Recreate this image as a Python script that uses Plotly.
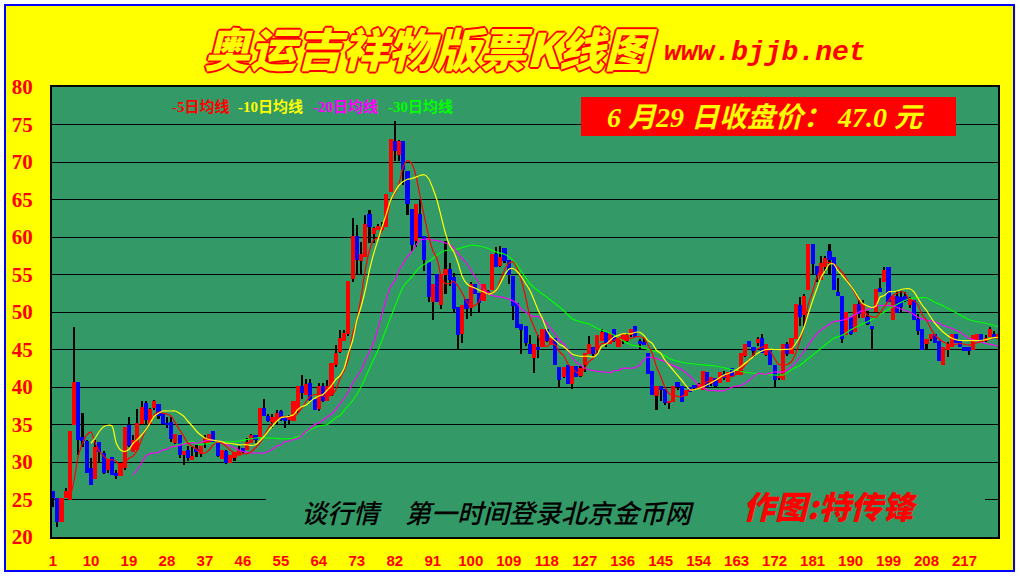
import plotly.graph_objects as go

days = list(range(1, 226))
opens = [26.2,25.2,22,25.2,25,35,40.7,33.4,32.8,29.2,27.8,32.7,31.2,29,30.7,28.5,28.2,29.2,35,31.4,31.6,35.1,37.9,35.1,37.2,
37.8,36.5,35.1,35.3,32.5,33.6,31,31.6,30.3,31.8,31.1,32.5,32.5,34.2,32.6,30.4,31.5,29.9,30.5,31,31.9,31.6,32.5,33.6,33.4,
37.2,36.2,35.4,35.6,36.8,36.1,35.6,35.5,36.8,40.2,39,40.6,38.4,37.1,40.2,38.1,39,42.9,44.7,46.2,47.1,54.4,60.2,56.8,57.4,
63.1,60.4,61,61,61.4,66,72.8,70.9,72.8,68.8,63.7,59.5,63.1,60.2,56.7,51.4,55.1,50.9,54.9,55.7,54.7,50.7,47.1,51.7,50.5,
53.8,52.6,51.5,52.8,52.9,57.7,56.1,58.6,57,54.8,51.2,48.4,48.2,45.7,43.9,45.4,45.4,47.7,45.7,46.5,42.7,41.4,42.9,40.4,42.8,
41.5,42.9,44.4,45.4,44.9,46.2,47.4,45.7,47.7,45.4,46.2,46.2,46.9,48.1,46.2,46,44.6,42.2,38.8,40.2,39.8,37.9,38,40.7,40.2,
38.8,40,40.3,39.9,39.6,42,40.4,41.2,40.5,41.8,40.7,42.6,41.6,41.6,44.1,46.1,45.3,45.9,46.6,44.3,45,42.9,41.2,40.9,45.7,
44.4,46.4,51,49.6,52.9,59.1,56.2,54.3,56,58.2,57.4,52.7,52.2,46.9,49.4,47.4,51.1,49.2,49.3,48.2,50,53.2,54,56,48.9,
52.2,52,52.2,51,51.6,49.1,47.7,45.8,46.4,47.1,46.1,42.9,45,45.4,47.1,46.1,45.4,45.4,45,46.2,47.1,46.2,46.7,47.1,46.4]
closes = [25.2,22,25.2,26.2,34.2,40.7,33,32.8,28.5,27,32,31.4,28.5,30.4,28.3,28.1,29.9,34.7,32.2,33,35.2,37.4,35.6,37.1,38.1,
36.1,35.1,35,33.1,33.8,31,31.5,30.5,30.8,31.3,32.2,33.2,33.8,32.6,30.8,31.6,29.9,31,31.3,31.6,31.3,32.7,33.6,33,37.2,
36.2,35.5,36,36.5,35.6,35.5,36.1,38.1,40.2,39.2,40.4,38.3,37,40.2,38.1,40.2,43.2,44.5,46.6,47.2,54.2,60.2,56.9,57.7,61.7,
61.4,61.2,61.5,61.4,65.7,73.1,71.5,72.8,68.9,64.4,58.9,64.4,60,56.9,52,53.8,51.4,55.1,55.7,54.3,50.4,46.9,51,50.4,53.8,
52.4,51.2,53.7,52.6,57.7,56,57.4,56.8,55,50.8,47.9,47.6,45.9,44.4,45.8,44.9,47.7,46.2,46.5,42.9,41,42.7,40.4,42.8,41.3,
42.6,44.5,45.7,44.4,46.9,47.4,45.9,47.2,46.2,46.7,47.1,46.9,47.7,46.7,45.7,45.6,41.8,39,40.2,39.6,37.9,38.1,40.2,40,38,
39.6,39.4,39.9,40.4,42.2,40,41.3,40.1,42,41.2,42,41.5,42.1,44.5,45.7,45.4,44.8,46.4,44.5,45.7,42.9,40.9,41.6,45.7,44.4,
46.6,51.1,49.4,52.2,59.1,56.4,54.9,56.6,57.2,56.9,52.9,52.1,46.4,50,47.1,51.1,49.8,51.1,48.4,47.7,53.1,52.7,55.6,51.4,52.1,
49.9,50.7,51.5,51.8,49,47.5,45,46.4,47.1,45.9,43.5,45.4,45.7,47.1,45.9,45.4,44.8,44.8,46.9,47.1,46.2,46.6,47.7,46.6,47.1]
highs = [26.2,25.2,25.2,26.5,34.2,48,40.7,36.5,33,30.5,33,32.7,31.5,30.4,30.7,29,30,34.7,36,33.6,37.1,38.1,38.1,37.2,38.3,
37.8,36.5,36,36,33.8,33.6,31.5,32.2,32,32.3,32.2,33.6,33.8,34.2,32.6,31.6,31.6,31,31.3,32.1,31.9,33.2,33.7,33.6,37.2,
38.4,36.4,36.4,37,36.9,36.1,36.3,38.1,40.2,41.6,41.1,41.1,38.4,40.6,40.6,40.9,43.2,45.6,47.6,47.6,54.2,62.5,61.6,59.4,63,
63.6,61.4,61.7,62,65.7,73.1,75.5,73,72.8,68.8,63.7,64.4,65,60.2,56.7,53.8,55.1,55.1,59.5,56.5,55.2,50.7,51,51.7,54,
53.8,52.6,53.8,53,57.7,58.7,58.8,58.6,57,54.8,51.2,48.4,48.2,47,45.8,46.9,47.7,47.7,46.5,46.5,42.7,42.7,42.9,42.8,42.8,
42.8,44.5,46.8,45.4,46.9,47.7,47.4,47.2,47.7,46.7,47.1,47.2,47.7,48.1,46.4,46.5,44.6,42.2,40.2,40.2,39.8,38.2,40.2,40.7,40.2,
39.6,40,40.3,40.5,42.2,42,41.3,41.2,42,42.2,42,42.6,42.2,44.5,45.7,46.1,45.3,46.7,47.1,45.7,45,42.9,41.8,45.7,46,
46.6,51.1,52,52.4,59.1,59.1,56.2,57.5,57.5,59.1,57.4,54.5,52.2,50,49.4,51.1,51.6,51.6,50.2,48.2,53.1,54.5,56,56,52.1,
52.8,52.8,52.7,52,51.6,49.8,47.7,46.4,47.1,47.1,46.1,45.4,46,47.1,47.1,46.1,45.4,45.4,46.9,47.1,47.1,47,48,47.5,47.1]
lows = [24,21.4,22,25.2,25,35,31,32,28.5,27,27.8,30,28.4,28.6,28.3,27.8,28.2,29,32,31.4,31.6,35.1,35.1,35,37,
35.8,35.1,34.5,32.7,32.4,30.5,29.6,30.2,30.3,30.7,30.7,31.9,32.5,32.6,30.7,30.4,29.8,29.9,30.2,31,31.2,31.6,32.5,32.5,33.4,
36.2,35.4,34.5,35.1,35.5,34.6,35,35.5,36.6,38.4,39,38.2,37,36.8,38,38.1,38.8,42.7,44.5,46.2,46.8,54,55.1,55,57.4,
59.2,59.2,61,60.8,61.3,66,70.2,70.2,67,62.9,58.2,58.7,60,55.5,51.4,48.9,51.4,50.4,52.4,53.5,50,45,45.9,49.1,49.5,
52.4,49.9,51.5,52.3,52.9,56,56,56.5,53.7,49,47.9,44.4,45.5,44.4,41.9,43.9,45.4,46,45.7,42.9,40,41.2,40.4,39.8,41.3,
41.4,42,44.4,44.2,44.4,46.2,45.3,45.7,46,45.4,45.7,46,46.7,46.7,45,45.6,41.8,39,37,38.1,37.6,37.1,38,39.6,38,
38.8,39.3,39.7,39.9,39.6,40,40.2,40,40.5,41,40.7,41.3,41.6,41.6,44,45.4,44,45.5,44.5,44.2,42.9,40,41,40.9,44.1,
44.4,46.4,48.2,48.2,52.9,55,54,54.3,55.4,55,52.9,52.1,45.9,46.9,46.9,47.4,49.2,49.2,48.3,45,50,52.7,54,51.4,48.9,
49.9,49.9,51.3,50.5,49,47,45,45,46.2,45.9,43.5,42.9,44,45.3,45.9,45.4,44.8,44.3,45,46.2,46.2,46,46.7,46.5,46.4]

ma5_days = list(range(5, 148)) + [150,152,154,156,158,160,162,164,166,168,170,171,172,173,175,176,177,178,179,180,181,182,184,186,188,190,192,193,194,196,198,200,202,203,204,205,206,207,208,209,210,212,214,216,218,220,222,224,225]
ma5_vals = [25,27.6,30.8,32.5,33.6,34,32.5,31.4,30.8,30.3,30.3,30.1,29.2,29.9,30.5,30.8,31.6,33,34.3,35.2,36.3,36.7,36.5,36.4,36.1,
35.2,34.3,33.4,32.5,32.1,31.7,31.2,31.2,31.6,32.3,32.7,32.5,32.1,31.6,31.2,30.9,31.1,31.1,31.4,31.9,32.5,33.4,34.5,35.2,35.6,
36,36.1,36,36,36.5,37.2,38.1,38.8,39,39,38.8,38.8,38.9,39.6,41.1,42.2,43.8,47.1,48.9,52,55.6,58.2,59.6,59.9,60.9,
62.2,64.9,65.8,67.1,69.4,70.2,69.8,68.2,65.4,62.7,60.2,58.2,57.1,54.7,53.8,53.8,54.1,53.4,52.5,51.4,50.7,50.9,51.4,53.4,52.7,
52.5,52.9,54.2,55.6,56.5,56.7,55.8,54.2,52,49.4,48,46.7,45.7,45.4,45.7,45.6,44.7,44.2,43.1,42.5,42,41.8,42.5,43.4,43.8,
44.9,45.8,45.8,45.9,46.2,46.5,46.5,46.5,46.5,46.7,46.7,46.5,45.6,44.5,42.7,41.4,40,39.1,
38.7,39.6,39.8,40.7,40.9,41.4,41.4,42.3,43.6,45.1,45.4,44.7,43.8,43,43,43.4,44.5,46.2,48,51.1,52.7,54.6,56.6,56.4,55.3,53.5,51.5,50.4,49.6,49.3,50.7,52.2,52.7,52.5,51.5,51.5,50.9,49.6,48.9,47.8,46.9,46,45.6,45.8,45.6,45.9,46.2,46.6,46.7]

ma10_days = list(range(10, 148)) + [150,152,154,156,158,160,162,164,166,168,170,172,174,176,177,178,179,180,181,182,183,184,185,186,187,188,189,190,191,192,193,194,195,196,197,198,199,200,201,202,203,204,205,206,207,208,209,210,212,214,216,218,220,222,224,225]
ma10_vals = [32.5,33.2,34.1,34.7,34.9,34.8,32.5,31.6,31.4,31.7,32.5,33,33.6,34.3,35.2,36.1,36.5,36.8,36.8,36.8,36.8,36.5,36.1,35.4,34.8,
34.1,33.6,33.2,33,32.9,32.8,32.7,32.5,32.5,32.4,32.3,32.3,32.3,32.2,32.3,32.8,33.4,34.1,34.8,35.4,35.9,36,36.1,36.3,37,
37.4,37.6,38.1,38.5,38.8,39,39.6,40.2,41,41.5,42.5,44.5,46.2,48.9,50.7,52.9,55.6,57.8,59.6,61.4,63.1,64.9,66,66.9,67.4,
67.7,67.8,68,68.2,68.3,67.8,66.5,64.9,62.7,60.5,58.9,58,56.5,54.7,53.8,53.4,53.2,52.9,52.7,52.4,52.5,52.9,53.8,54.9,55.7,
55.8,55.4,54.7,53.8,52.9,51.6,50.2,49.1,47.6,46.7,46.2,45.7,45.4,44.9,44.4,44.2,44.1,44.1,44.1,44,44.4,45.4,45.7,46.2,46.7,
46.9,47.1,47.1,47.1,47.3,47.3,46.9,46.2,45.8,44.9,44.5,43.6,42.9,
40.9,39.6,39.8,40.3,40.9,41.6,42,42.7,43.6,44.5,45,45,45,45.1,45.8,46.7,48,49.8,51.5,53.1,54.6,55.5,56.4,56.4,55.5,54.9,54.2,53.5,52.7,51.8,51.1,50.8,50.6,50.8,52,52.2,52.7,52.7,52.8,53,53.1,53.1,52.7,51.8,50.9,50.2,49.3,48.5,47.3,46.5,46.2,46.2,46.2,46.3,46.6,46.6]

ma20_days = list(range(20, 148)) + [150,152,154,156,158,160,162,164,166,168,170,172,174,176,178,180,182,184,186,188,190,192,194,196,198,200,202,204,206,208,210,212,214,216,218,220,222,224,225]
ma20_vals = [28.3,29,29.9,30.8,31.1,31.2,31.3,31.6,31.7,32,32.1,32.2,32.4,32.5,32.6,32.5,32.6,32.8,32.9,32.9,32.8,32.6,32.4,32.1,31.9,
31.6,31.4,31.3,31.2,31.2,31.2,31.2,31.4,31.7,32.1,32.3,32.7,32.8,33,33.1,33.6,34.1,34.5,35,35.2,35.6,36,36.4,37,37.8,
38.5,39.4,40.5,41.4,42.2,43.6,44.7,46,47.8,49.8,51.8,53.4,54.2,55.6,56.5,57.4,58,58.9,59.6,59.7,59.7,59.6,59.5,59.4,59.2,
59,58.5,57.8,57.1,56.5,55.6,54.7,53.8,53.1,52.5,52.2,52.1,52,51.9,51.7,51.5,51.1,50.4,50,49.6,49.4,49.4,49,48.5,47.8,
47.1,46.2,45.8,44.9,44,43.3,42.9,42.5,42.3,42.2,42.1,42,42,41.9,42.2,42.2,42.5,42.5,42.5,42.6,42.9,43.6,44,43.9,43.8,
43.6,43.4,43.1,
42.3,41.4,40.3,39.6,39.5,39.5,40,40.2,40.9,41.8,41.7,42,42,42.7,44,45.6,47.1,48,48.7,48.9,49.3,50,50.3,50.8,50.9,50.8,50.4,50,49.3,48.9,48.7,48.2,47.8,47.3,46.5,46.2,45.8,45.6,45.4]

ma30_days = [30,32,34,35,37,39,41,43,45,47,49,51,53,55,57,58,59,60,62,64,66,68,69,70,72,74,76,78,80,82,84,86,88,90,92,94,96,98,100,102,104,106,108,110,112,114,116,118,120,122,124,126,128,130,132,134,136,138,140,142,144,146,147,150,154,158,162,166,170,172,174,176,178,180,182,184,186,188,190,192,194,196,198,200,202,204,206,208,210,212,214,216,218,220,222,224,225]
ma30_vals = [32.2,32.5,32.8,32.4,32.4,32.6,32.7,32.7,32.8,33,33.2,33.2,33.2,33.1,33.1,33.2,33.4,33.6,34.3,34.8,35,35.9,36.2,36.9,38.2,40,42.5,44.9,47.8,50.7,53.4,54.7,56,56.7,57.6,58.2,58.3,58.6,58.9,58.8,58.5,58,57.7,56.9,55.4,53.8,52.8,52,51.1,50.2,49.1,48.7,48.4,47.8,47.4,46.9,46.2,45.6,45.4,45,44.7,44.2,43.8,43.3,43,42.8,42.3,41.9,41.7,41.6,41.6,42.3,42.9,43.8,44.7,45.6,46.5,46.9,47.6,48.2,48.7,49.3,50,50.7,51.3,51.8,51.9,51.9,51.3,50.8,50.2,49.6,49,48.7,48.5,48.2,48]

x_ticks = list(range(1, 226, 9))
y_ticks = [20, 25, 30, 35, 40, 45, 50, 55, 60, 65, 70, 75, 80]
title_text = "奥运吉祥物版票K线图"
site_text = "www.bjjb.net"
price_text = "6 月29 日收盘价： 47.0 元"
promo_text = "谈行情　第一时间登录北京金币网"
author_text = "作图:特传锋"
legend_items = ["-5日均线", "-10日均线", "-20日均线", "-30日均线"]

GREEN = "#339966"
YELLOW = "#FFFF00"
L, R, T, B = 52, 998, 87, 537
PX_PER_DAY = 4.22
def px(v): return (v - L) / (R - L)
def py(v): return (B - v) / (B - T)

fig = go.Figure()
fig.add_trace(go.Bar(x=days, base=lows, y=[h - l for h, l in zip(highs, lows)], width=0.5,
                     marker=dict(color="#000000", line=dict(width=0)), hoverinfo="skip", name="wick"))
fig.add_trace(go.Bar(x=days, base=opens, y=[c - o for o, c in zip(opens, closes)], width=0.98,
                     marker=dict(color=["#FF0000" if c >= o else "#0000FF" for o, c in zip(opens, closes)], line=dict(width=0)),
                     hoverinfo="skip", name="body"))
for d, v, c, n in [(ma30_days, ma30_vals, "#00FF00", "MA30"), (ma20_days, ma20_vals, "#FF00FF", "MA20"),
                   (ma5_days, ma5_vals, "#FF0000", "MA5"), (ma10_days, ma10_vals, YELLOW, "MA10")]:
    fig.add_trace(go.Scatter(x=d, y=v, mode="lines", name=n, line=dict(color=c, width=1.2, shape="spline", smoothing=0.6), hoverinfo="skip"))

shapes = [
    dict(type="rect", xref="paper", yref="paper", x0=px(266), x1=px(985), y0=py(493), y1=py(530), layer="above",
         fillcolor=GREEN, line=dict(width=0)),
    dict(type="rect", xref="paper", yref="paper", x0=px(581), x1=px(956), y0=py(136), y1=py(97), layer="above",
         fillcolor="#FF0000", line=dict(width=0)),
    dict(type="rect", xref="paper", yref="paper", x0=px(0), x1=px(1020), y0=py(576), y1=py(0), layer="above",
         fillcolor="rgba(0,0,0,0)", line=dict(color="#FFFFFF", width=9)),
    dict(type="rect", xref="paper", yref="paper", x0=px(5), x1=px(1014), y0=py(571), y1=py(5), layer="above",
         fillcolor="rgba(0,0,0,0)", line=dict(color="#0000FF", width=2)),
]
outline = ",".join(f"{a}px {b}px 0 #FF0000" for a, b in [(-2,0),(2,0),(0,-2),(0,2),(-1,-1),(1,1),(-1,1),(1,-1)])
ann = [
    dict(text=title_text, x=px(431), y=py(47), font=dict(family="Noto Sans CJK SC", size=46, color=YELLOW, style="italic", weight=900, shadow=outline)),
    dict(text=site_text, x=px(765), y=py(53), font=dict(family="Liberation Mono", size=28, color="#FF0000", style="italic", weight=700)),
    dict(text=price_text, x=px(766), y=py(117), font=dict(family="Liberation Serif, Noto Sans CJK SC", size=28, color=YELLOW, style="italic", weight=700)),
    dict(text=promo_text, x=px(498), y=py(511), font=dict(family="Noto Sans CJK SC", size=26, color="#000000", style="italic", weight=500)),
    dict(text=author_text, x=px(830), y=py(505), font=dict(family="Noto Sans CJK SC", size=32, color="#FF0000", style="italic", weight=900)),
]
for text, color, start in zip(legend_items, ["#FF0000", YELLOW, "#FF00FF", "#00FF00"], [170, 236, 311, 386]):
    ann.append(dict(text=text, x=px(start), y=py(107), font=dict(family="Liberation Serif, Noto Sans CJK SC", size=15, color=color, weight=700)))
for a in ann:
    a.update(xref="paper", yref="paper", showarrow=False, yanchor="middle")
    a.setdefault("xanchor", "center")
for a in ann[-4:]:
    a["xanchor"] = "left"

fig.update_layout(
    width=1020, height=576, margin=dict(l=L, r=1020 - R, t=T, b=576 - B, autoexpand=False),
    paper_bgcolor=YELLOW, plot_bgcolor=GREEN, showlegend=False, barmode="overlay", bargap=0,
    shapes=shapes, annotations=ann,
    xaxis=dict(range=[1 - 1 / PX_PER_DAY, 1 + (R - 53) / PX_PER_DAY], tickmode="array", tickvals=x_ticks, ticktext=[str(t) for t in x_ticks],
               showgrid=False, zeroline=False, showline=True, mirror=True, linecolor="#000000", linewidth=2, ticks="", automargin=False,
               tickangle=0, tickfont=dict(family="Liberation Sans", size=15, color="#FF0000", weight=700), ticklabelstandoff=9),
    yaxis=dict(range=[20, 80], tickmode="array", tickvals=y_ticks, ticktext=[str(t) for t in y_ticks], automargin=False,
               showgrid=True, gridcolor="#000000", gridwidth=1, zeroline=False, showline=True, mirror=True, linecolor="#000000", linewidth=2, ticks="",
               tickfont=dict(family="Liberation Serif", size=21, color="#FF0000", weight=700), ticklabelstandoff=13),
)
fig.write_html("out.html", config={"displayModeBar": False}, post_script="document.body.style.margin='0';document.body.style.overflow='hidden';")
